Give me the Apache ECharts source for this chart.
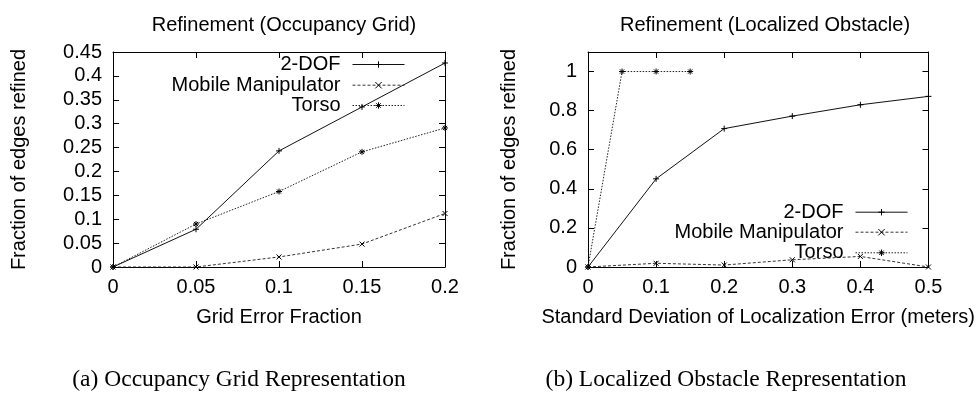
<!DOCTYPE html>
<html>
<head>
<meta charset="utf-8">
<script src="https://cdn.jsdelivr.net/npm/echarts@6/dist/echarts.min.js"></script>
<style>
html,body{margin:0;padding:0;background:#fff;}
#c{width:978px;height:394px;}
</style>
</head>
<body>
<div id="c"></div>
<script>
// ---- Data ----
const gridX = [0, 0.05, 0.1, 0.15, 0.2];
const grid2DOF = [0, 0.079, 0.243, 0.335, 0.427];
const gridMobile = [0, 0, 0.021, 0.048, 0.112];
const gridTorso = [0, 0.090, 0.158, 0.241, 0.291];

const locX = [0, 0.1, 0.2, 0.3, 0.4, 0.5];
const loc2DOF = [0, 0.451, 0.708, 0.772, 0.830, 0.873];
const locMobile = [0, 0.019, 0.010, 0.037, 0.054, 0];
const locTorsoX = [0, 0.05, 0.1, 0.15];
const locTorso = [0, 1, 1, 1];

const seriesNames = ['2-DOF', 'Mobile Manipulator', 'Torso'];
const titles = ['Refinement (Occupancy Grid)', 'Refinement (Localized Obstacle)'];
const captions = ['(a) Occupancy Grid Representation', '(b) Localized Obstacle Representation'];
const xNames = ['Grid Error Fraction', 'Standard Deviation of Localization Error (meters)'];
const yName = 'Fraction of edges refined';

// ---- Styles ----
const FONT = 'Liberation Sans';
const FS = 20;
const SYM_PLUS = 'path://M0,5L10,5M5,0L5,10';
const SYM_X = 'path://M0,0L10,10M0,10L10,0';
const SYM_STAR = 'path://M0,5L10,5M5,0L5,10M1.5,1.5L8.5,8.5M1.5,8.5L8.5,1.5';
const styles = [
  {symbol: SYM_PLUS, size: 6, type: 'solid', color: '#111'},
  {symbol: SYM_X, size: 5, type: [3, 2], color: '#333'},
  {symbol: SYM_STAR, size: 6, type: [1.5, 1.5], color: '#222'}
];

function zip(xs, ys) { return xs.map((x, i) => [x, ys[i]]); }

function mkSeries(name, idx, data, gi) {
  const s = styles[idx];
  return {
    type: 'line', name: name, xAxisIndex: gi * 2, yAxisIndex: gi * 2,
    data: data, symbol: s.symbol, symbolSize: s.size, showSymbol: true,
    animation: false,
    lineStyle: {color: s.color, width: 1, type: s.type},
    itemStyle: {color: s.color, borderColor: '#000', borderWidth: 1},
    emphasis: {disabled: true}
  };
}

const grids = [
  {left: 113, right: 533, top: 52, bottom: 127},
  {left: 588, right: 45, top: 52, bottom: 127}
];
const xr = [{min: 0, max: 0.2, interval: 0.05}, {min: 0, max: 0.5, interval: 0.1}];
const yr = [{min: 0, max: 0.45, interval: 0.05}, {min: 0, max: 1.1, interval: 0.2}];
const yNameGap = [84, 69];

const xAxis = [], yAxis = [];
for (let g = 0; g < 2; g++) {
  xAxis.push({
    type: 'value', gridIndex: g, position: 'bottom', ...xr[g],
    name: xNames[g], nameLocation: 'middle', nameGap: 40,
    nameTextStyle: {fontFamily: FONT, fontSize: FS, color: '#000'},
    axisLine: {show: true, onZero: false, lineStyle: {color: '#000', width: 1}},
    axisTick: {show: true, inside: true, length: 6, lineStyle: {color: '#000'}},
    axisLabel: {fontFamily: FONT, fontSize: FS, color: '#000', margin: 10},
    splitLine: {show: false}
  });
  xAxis.push({
    type: 'value', gridIndex: g, position: 'top', ...xr[g],
    axisLine: {show: true, onZero: false, lineStyle: {color: '#000', width: 1}},
    axisTick: {show: true, inside: true, length: 6, lineStyle: {color: '#000'}},
    axisLabel: {show: false}, splitLine: {show: false}
  });
  yAxis.push({
    type: 'value', gridIndex: g, position: 'left', ...yr[g],
    name: yName, nameLocation: 'middle', nameGap: yNameGap[g],
    nameTextStyle: {fontFamily: FONT, fontSize: FS, color: '#000'},
    axisLine: {show: true, onZero: false, lineStyle: {color: '#000', width: 1}},
    axisTick: {show: true, inside: true, length: 6, lineStyle: {color: '#000'}},
    axisLabel: {fontFamily: FONT, fontSize: FS, color: '#000', margin: 11, showMaxLabel: g === 0},
    splitLine: {show: false}
  });
  yAxis.push({
    type: 'value', gridIndex: g, position: 'right', ...yr[g],
    axisLine: {show: true, onZero: false, lineStyle: {color: '#000', width: 1}},
    axisTick: {show: true, inside: true, length: 6, lineStyle: {color: '#000'}},
    axisLabel: {show: false}, splitLine: {show: false}
  });
}

const series = [
  mkSeries(seriesNames[0], 0, zip(gridX, grid2DOF), 0),
  mkSeries(seriesNames[1], 1, zip(gridX, gridMobile), 0),
  mkSeries(seriesNames[2], 2, zip(gridX, gridTorso), 0),
  mkSeries(seriesNames[0], 0, zip(locX, loc2DOF), 1),
  mkSeries(seriesNames[1], 1, zip(locX, locMobile), 1),
  mkSeries(seriesNames[2], 2, zip(locTorsoX, locTorso), 1)
];

// legends: one per entry, right-aligned
const legendRight = [573, 70];
const legendRowsY = [[65, 85.7, 106], [212.7, 232.7, 253.3]];
const legend = [];
for (let g = 0; g < 2; g++) {
  for (let i = 0; i < 3; i++) {
    legend.push({
      data: [seriesNames[i]], right: legendRight[g], top: legendRowsY[g][i] - 10.5,
      orient: 'horizontal', align: 'right', padding: 0,
      itemWidth: 52, itemHeight: 8, selectedMode: false, symbolSize: 6,
      lineStyle: {width: 1},
      itemStyle: {borderWidth: 1},
      textStyle: {fontFamily: FONT, fontSize: FS, color: '#000', padding: [0, 7, 0, 0]}
    });
  }
}

const title = [
  {text: titles[0], left: 279, top: 10, textAlign: 'center',
   textStyle: {fontFamily: FONT, fontSize: FS, fontWeight: 'normal', color: '#000'}},
  {text: titles[1], left: 760, top: 10, textAlign: 'center',
   textStyle: {fontFamily: FONT, fontSize: FS, fontWeight: 'normal', color: '#000'}},
  {text: captions[0], left: 239, top: 368, textAlign: 'center', padding: 0,
   textStyle: {fontFamily: 'Liberation Serif', fontSize: 23.5, fontWeight: 'normal', color: '#000'}},
  {text: captions[1], left: 726, top: 368, textAlign: 'center', padding: 0,
   textStyle: {fontFamily: 'Liberation Serif', fontSize: 23.5, fontWeight: 'normal', color: '#000'}}
];

const chart = echarts.init(document.getElementById('c'), null, {renderer: 'canvas'});
chart.setOption({
  animation: false,
  backgroundColor: '#fff',
  title: title,
  legend: legend,
  grid: grids,
  xAxis: xAxis,
  yAxis: yAxis,
  series: series
});
</script>
</body>
</html>
